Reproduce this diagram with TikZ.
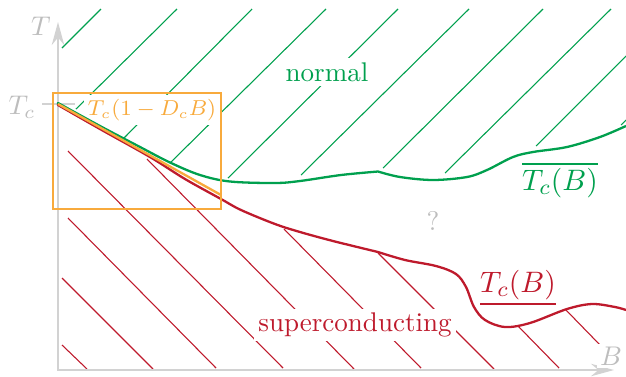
\documentclass[tikz,border=0pt]{standalone}
\usepackage{amsmath}
\usepackage{xcolor}
\usepackage{tikz}
\usetikzlibrary{arrows.meta}
\definecolor{normalgreen}{HTML}{00A04E}
\definecolor{scred}{HTML}{BE1A2C}
\definecolor{linorange}{HTML}{F8AA3C}
\definecolor{axisgray}{HTML}{D2D2D2}

\begin{document}
\begin{tikzpicture}[
  x=0.37pt, y=-0.37pt,
  axis/.style={draw=axisgray, line width=0.8pt,
    {Stealth[length=8.5pt,width=4.6pt]}-{Stealth[length=8.5pt,width=4.6pt]}},
  tick/.style={draw=axisgray, line width=0.8pt},
  hatchN/.style={draw=normalgreen, line width=0.4pt},
  hatchS/.style={draw=scred, line width=0.4pt},
  boundary/.style={line width=0.85pt, line join=round},
  phase/.style={fill=white, inner sep=1.5pt},
  curvelabel/.style={inner sep=1.5pt, font=\fontsize{11}{13}\selectfont},
  axislabel/.style={text=axisgray!90!black, inner sep=1pt}
]
\useasboundingbox (0,0) rectangle (626,376);
\coordinate (O) at (58,370);
\coordinate (Ttop) at (58,22);
\coordinate (Bend) at (614,370);
\coordinate (Tc) at (58,104);

% hatching of the two phases
\foreach \a/\b in {{62,48}/{101,9}, {76,109}/{177,9}, {124,138}/{252,9},
    {170,163}/{326,9}, {228,178}/{398,9}, {301,175}/{469,9}, {383,168}/{543,9},
    {445,173}/{611,9}, {536,146}/{626,56}, {621,125}/{626,120}}
  \draw[hatchN] (\a) -- (\b);
\foreach \a/\b in {{62,345}/{87,369}, {62,278}/{153,369}, {68,218}/{216,368},
    {68,151}/{283,368}, {147,159}/{354,369}, {284,229}/{421,368},
    {378,253}/{494,369}, {518,326}/{559,368}, {566,310}/{601,346}}
  \draw[hatchS] (\a) -- (\b);

% labels
\node[phase, text=normalgreen] (normal) at (327,72) {normal};
\node[phase, text=scred] (sc) at (355,325) {superconducting};
\node[phase, text=linorange, font=\fontsize{7.6}{9}\selectfont, inner sep=1.5pt] (lin) at (152,110) {$T_c(1-D_cB)$};
\node[curvelabel, text=scred] (lower) at (518,288) {$\underline{T_c(B)}$};
\node[curvelabel, text=normalgreen] (upper) at (560,180) {$\overline{T_c(B)}$};
\node[axislabel] (unknown) at (433,221) {?};

% axes
\draw[axis] (Ttop) -- (O) -- (Bend);
\draw[tick] (42,104) -- (75,104);
\node[axislabel, fill=white] (Tlabel) at (41,26) {$T$};
\node[axislabel, fill=white] (Blabel) at (611,356) {$B$};
\node[axislabel] (Tclabel) at (22,107) {$T_c$};

% phase boundaries
\draw[boundary, scred] (Tc) -- plot[smooth, tension=0.55] coordinates {(58,105) (100,129)
    (150,157) (185,179) (221,199) (241,210) (275,224) (300,232) (333,241) (378,252)}
  -- plot[smooth, tension=0.55] coordinates {(378,252) (405,260) (436,266) (456,274)
    (466,287) (474,307) (485,320) (505,327) (530,323) (567,309) (592,304) (615,307) (626,310)};
\draw[boundary, normalgreen] (Tc) -- plot[smooth, tension=0.55] coordinates {(58,103) (100,126)
    (140,147) (170,162.5) (200,175) (230,181.5) (275,183) (300,181) (341,175) (378,171.5)}
  -- plot[smooth, tension=0.55] coordinates {(378,171.5) (400,177) (433,180) (467,177)
    (487,170) (513,157) (533,152) (567,147) (600,137) (626,126)};
\draw[boundary, linorange] (Tc) -- (221,195);
\draw[linorange, line width=0.8pt] (53,93) rectangle (221,209);
\end{tikzpicture}
\end{document}
